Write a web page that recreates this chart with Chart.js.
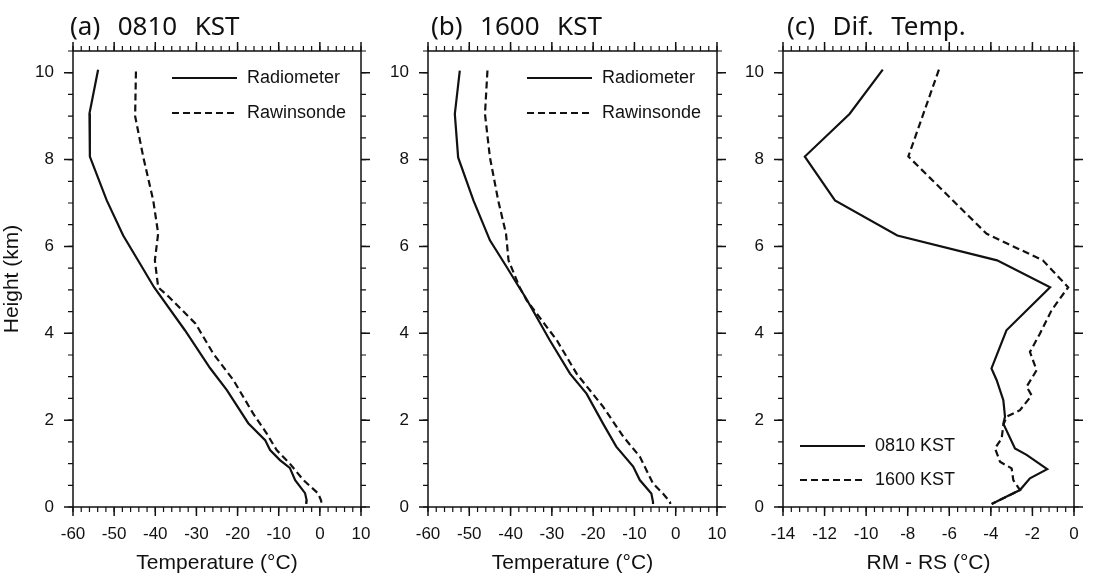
<!DOCTYPE html>
<html>
<head>
<meta charset="utf-8">
<script src="https://cdn.jsdelivr.net/npm/chart.js@4.4.0/dist/chart.umd.min.js"></script>
<style>
  html, body { margin: 0; padding: 0; background: #fff; }
  #wrap { position: relative; width: 1104px; height: 580px; }
  #wrap canvas { position: absolute; left: 0; top: 0; }
</style>
</head>
<body>
<div id="wrap">
  <canvas id="chartA" width="1104" height="580"></canvas>
  <canvas id="chartB" width="1104" height="580"></canvas>
  <canvas id="chartC" width="1104" height="580"></canvas>
</div>
<script>
// Tick labels.
const heightTicks = [0, 2, 4, 6, 8, 10];
const tempTicks = [-60, -50, -40, -30, -20, -10, 0, 10];
const difTicks = [-14, -12, -10, -8, -6, -4, -2, 0];

// (a) 0810 KST, heights in km and temperatures in degC.
const radA_h = [10.07, 9.06, 8.07, 7.06, 6.25, 5.6, 5.06, 4.07, 3.2, 2.69, 1.93, 1.54, 1.31, 1.08, 0.9, 0.62, 0.32, 0.15, 0.07];
const radA_t = [-53.9, -56.0, -55.9, -51.8, -47.8, -43.7, -40.3, -32.8, -26.7, -22.6, -17.4, -13.3, -12.1, -9.7, -7.3, -6.0, -3.6, -3.2, -3.3];
const rawA_h = [10.03, 9.0, 8.05, 7.06, 6.3, 5.68, 5.06, 4.83, 4.22, 3.53, 2.92, 2.15, 1.69, 1.31, 1.0, 0.62, 0.31, 0.15, 0.07];
const rawA_t = [-44.7, -44.9, -42.9, -40.5, -39.3, -40.1, -39.3, -36.6, -30.2, -25.9, -21.0, -16.2, -12.9, -10.5, -7.3, -4.0, -0.4, 0.3, 0.4];

// (b) 1600 KST.
const radB_h = [10.05, 9.05, 8.05, 7.06, 6.14, 5.52, 5.1, 4.83, 3.84, 3.07, 2.61, 1.92, 1.39, 0.93, 0.62, 0.31, 0.12, 0.07];
const radB_t = [-52.3, -53.5, -52.7, -49.0, -45.0, -40.9, -38.2, -36.4, -30.5, -25.6, -21.6, -17.6, -14.4, -10.3, -8.7, -5.9, -5.5, -5.5];
const rawB_h = [10.05, 9.05, 8.05, 7.06, 6.29, 5.68, 5.06, 4.76, 3.84, 3.07, 2.31, 1.62, 1.16, 0.54, 0.31, 0.12, 0.07];
const rawB_t = [-45.6, -46.2, -45.0, -43.0, -41.1, -40.5, -37.8, -36.1, -28.8, -24.0, -17.6, -12.7, -8.7, -5.5, -3.1, -1.4, -1.3];

// (c) RM - RS.
const dif0810_h = [10.07, 9.05, 8.07, 7.06, 6.25, 5.68, 5.06, 4.07, 3.19, 2.92, 2.46, 2.08, 1.92, 1.35, 1.2, 0.87, 0.66, 0.39, 0.24, 0.07];
const dif0810_d = [-9.2, -10.8, -12.95, -11.5, -8.5, -3.7, -1.15, -3.25, -3.97, -3.72, -3.4, -3.32, -3.4, -2.84, -2.28, -1.29, -2.12, -2.6, -3.24, -3.96];
const dif1600_h = [10.07, 8.07, 6.29, 5.68, 5.06, 4.53, 3.99, 3.57, 3.15, 2.77, 2.57, 2.23, 2.08, 1.89, 1.58, 1.35, 1.04, 0.89, 0.62, 0.39, 0.2, 0.07];
const dif1600_d = [-6.5, -7.97, -4.2, -1.5, -0.28, -1.08, -1.64, -2.12, -1.8, -2.28, -2.04, -2.6, -3.24, -3.4, -3.48, -3.8, -3.56, -3.0, -2.92, -2.6, -3.4, -3.96];

const INK = '#111';
const pts = (xs, hs) => xs.map((x, i) => ({ x: x, y: hs[i] }));

// Frame, outward ticks (major + minor), panel title and line legend.
const framePlugin = {
    id: 'frame',
    afterDatasetsDraw(chart, args, opts) {
        const { ctx, chartArea: a, scales: { x, y } } = chart;
        ctx.save();
        ctx.strokeStyle = INK;
        ctx.lineWidth = 1.5;
        ctx.strokeRect(a.left, a.top, a.right - a.left, a.bottom - a.top);

        const minors = (scale, sub) => {
            const step = (scale.ticks[1].value - scale.ticks[0].value) / sub;
            const out = [];
            for (let v = scale.min; v <= scale.max + 1e-9; v += step) out.push(v);
            return out;
        };
        ctx.lineWidth = 1.2;
        ctx.beginPath();
        minors(x, opts.xSub).forEach(v => {
            const px = x.getPixelForValue(v);
            ctx.moveTo(px, a.bottom); ctx.lineTo(px, a.bottom + 5);
            ctx.moveTo(px, a.top); ctx.lineTo(px, a.top - 5);
        });
        minors(y, opts.ySub).forEach(v => {
            const py = y.getPixelForValue(v);
            ctx.moveTo(a.left, py); ctx.lineTo(a.left - 5, py);
            ctx.moveTo(a.right, py); ctx.lineTo(a.right + 5, py);
        });
        ctx.stroke();
        ctx.lineWidth = 1.5;
        ctx.beginPath();
        x.ticks.forEach(t => {
            const px = x.getPixelForValue(t.value);
            ctx.moveTo(px, a.bottom); ctx.lineTo(px, a.bottom + 9);
            ctx.moveTo(px, a.top); ctx.lineTo(px, a.top - 9);
        });
        y.ticks.forEach(t => {
            const py = y.getPixelForValue(t.value);
            ctx.moveTo(a.left, py); ctx.lineTo(a.left - 9, py);
            ctx.moveTo(a.right, py); ctx.lineTo(a.right + 9, py);
        });
        ctx.stroke();

        // Title.
        ctx.fillStyle = INK;
        ctx.font = '26px "Noto Sans"';
        if ('wordSpacing' in ctx) ctx.wordSpacing = '2px';
        ctx.textBaseline = 'alphabetic';
        ctx.textAlign = 'left';
        ctx.fillText(opts.title, a.left + opts.titleDx, 35);
        if ('wordSpacing' in ctx) ctx.wordSpacing = '0px';

        // Legend.
        const lg = opts.legend;
        ctx.font = '18px "Liberation Sans", Arial, sans-serif';
        ctx.textBaseline = 'middle';
        chart.data.datasets.forEach((ds, i) => {
            const ly = a.top + lg.top + i * lg.gap;
            const lx = a.left + lg.left;
            ctx.save();
            ctx.lineWidth = ds.borderWidth;
            ctx.setLineDash(ds.borderDash || []);
            ctx.beginPath();
            ctx.moveTo(lx, ly); ctx.lineTo(lx + lg.len, ly);
            ctx.stroke();
            ctx.restore();
            ctx.fillText(ds.label, lx + lg.len + 10, ly);
        });
        ctx.restore();
    }
};

const tickFont = { family: '"Liberation Sans", Arial, sans-serif', size: 17 };
const titleFont = { family: '"Liberation Sans", Arial, sans-serif', size: 21 };

function makeChart(id, cfg) {
    return new Chart(document.getElementById(id), {
        type: 'scatter',
        data: {
            datasets: cfg.series.map(s => ({
                label: s.label,
                data: pts(s.x, s.h),
                showLine: true,
                borderColor: INK,
                borderWidth: 2.2,
                borderDash: s.dash,
                pointRadius: 0,
                tension: 0,
                fill: false,
            })),
        },
        options: {
            responsive: false,
            animation: false,
            events: [],
            layout: { padding: { left: cfg.padL, right: cfg.padR, top: 51, bottom: 0 } },
            plugins: {
                legend: { display: false },
                tooltip: { enabled: false },
                frame: { title: cfg.title, titleDx: cfg.titleDx, xSub: cfg.xSub, ySub: 4, legend: cfg.legend },
            },
            scales: {
                x: {
                    type: 'linear',
                    min: cfg.xTicks[0],
                    max: cfg.xTicks[cfg.xTicks.length - 1],
                    afterBuildTicks: s => { s.ticks = cfg.xTicks.map(v => ({ value: v })); },
                    afterFit: s => { s.height = 73; s.paddingLeft = 0; s.paddingRight = 0; },
                    grid: { display: false, drawTicks: false },
                    border: { display: false },
                    ticks: { padding: 17, font: tickFont, color: INK, maxRotation: 0, autoSkip: false },
                    title: { display: true, text: cfg.xTitle, font: titleFont, color: INK, padding: { top: 0, bottom: 4 } },
                },
                y: {
                    type: 'linear',
                    min: 0,
                    max: 10.5,
                    afterBuildTicks: s => { s.ticks = heightTicks.map(v => ({ value: v })); },
                    afterFit: s => { s.width = cfg.yWidth; s.paddingTop = 0; s.paddingBottom = 0; },
                    grid: { display: false, drawTicks: false },
                    border: { display: false },
                    ticks: { padding: 19, font: tickFont, color: INK, autoSkip: false },
                    title: { display: !!cfg.yTitle, text: cfg.yTitle || '', font: titleFont, color: INK, padding: { top: 0, bottom: 0 } },
                },
            },
        },
        plugins: [framePlugin],
    });
}

makeChart('chartA', {
    title: '(a)  0810  KST', titleDx: -3,
    padL: 0, yWidth: 73, padR: 1104 - 361,
    xTicks: tempTicks, xSub: 5, xTitle: 'Temperature (\u00B0C)', yTitle: 'Height (km)',
    legend: { left: 99, top: 27, gap: 35, len: 65 },
    series: [
        { label: 'Radiometer', x: radA_t, h: radA_h, dash: [] },
        { label: 'Rawinsonde', x: rawA_t, h: rawA_h, dash: [7, 4] },
    ],
});

makeChart('chartB', {
    title: '(b)  1600  KST', titleDx: 3,
    padL: 370, yWidth: 58, padR: 1104 - 717,
    xTicks: tempTicks, xSub: 5, xTitle: 'Temperature (\u00B0C)',
    legend: { left: 99, top: 27, gap: 35, len: 65 },
    series: [
        { label: 'Radiometer', x: radB_t, h: radB_h, dash: [] },
        { label: 'Rawinsonde', x: rawB_t, h: rawB_h, dash: [7, 4] },
    ],
});

makeChart('chartC', {
    title: '(c)  Dif.  Temp.', titleDx: 4,
    padL: 740, yWidth: 43, padR: 1104 - 1074,
    xTicks: difTicks, xSub: 5, xTitle: 'RM - RS (\u00B0C)',
    legend: { left: 17, top: 395, gap: 34, len: 65 },
    series: [
        { label: '0810 KST', x: dif0810_d, h: dif0810_h, dash: [] },
        { label: '1600 KST', x: dif1600_d, h: dif1600_h, dash: [7, 4] },
    ],
});
</script>
</body>
</html>
